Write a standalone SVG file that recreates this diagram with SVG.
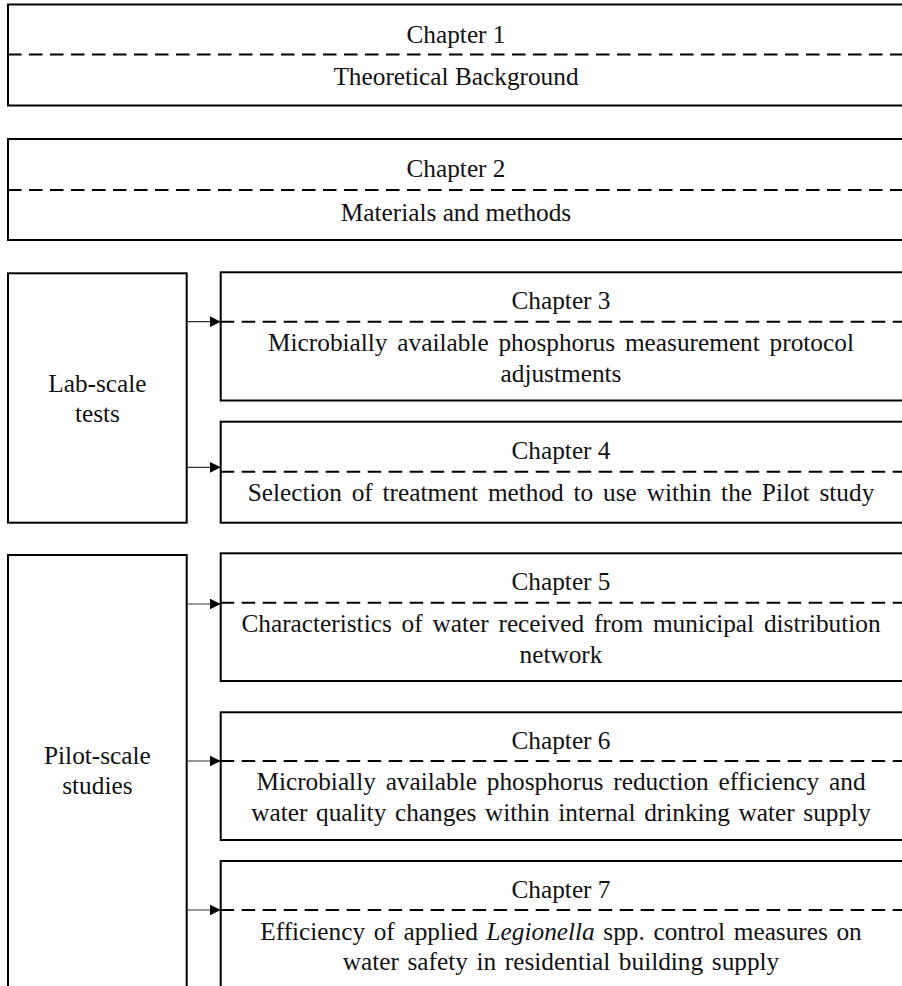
<svg xmlns="http://www.w3.org/2000/svg" width="902" height="986" viewBox="0 0 902 986">
<style>
.box{fill:#fff;stroke:#000;stroke-width:2}
.dash{stroke:#000;stroke-width:2;stroke-dasharray:13.5 7.5;fill:none}
.conn{stroke:#333;stroke-width:1.2;fill:none}
text{font-family:"Liberation Serif","Times New Roman",serif;font-size:25.3px;fill:#111;text-anchor:middle}
.ws{word-spacing:3.5px}
.ws2{word-spacing:2.3px}
</style>
<defs>
<marker id="ah" viewBox="0 0 10 10" refX="10" refY="5" markerWidth="11" markerHeight="11" markerUnits="userSpaceOnUse" orient="auto">
<path d="M0,0 L10,5 L0,10 z" fill="#000"/>
</marker>
</defs>
<rect width="902" height="986" fill="#fff"/>

<g id="ch1">
<rect class="box" x="8" y="4.5" width="896" height="101"/>
<line class="dash" x1="8" y1="54.5" x2="904" y2="54.5"/>
<text x="456" y="42.7">Chapter 1</text>
<text x="456" y="85">Theoretical Background</text>
</g>

<g id="ch2">
<rect class="box" x="8" y="139" width="896" height="101"/>
<line class="dash" x1="8" y1="190" x2="904" y2="190"/>
<text x="456" y="176.7">Chapter 2</text>
<text x="456" y="220.7">Materials and methods</text>
</g>

<g id="lab">
<rect class="box" x="8" y="273.3" width="178.7" height="249.4"/>
<text x="97.4" y="391.7">Lab-scale</text>
<text x="97.4" y="421.7">tests</text>
</g>

<g id="ch3">
<rect class="box" x="220.7" y="272.3" width="683.3" height="128.2"/>
<line class="dash" x1="220.7" y1="321.7" x2="904" y2="321.7"/>
<text x="561" y="309.3">Chapter 3</text>
<text class="ws" x="561" y="350.7">Microbially available phosphorus measurement protocol</text>
<text x="561" y="381.7">adjustments</text>
</g>

<g id="ch4">
<rect class="box" x="220.7" y="421.7" width="683.3" height="101"/>
<line class="dash" x1="220.7" y1="471.7" x2="904" y2="471.7"/>
<text x="561" y="459.3">Chapter 4</text>
<text class="ws" x="561" y="501">Selection of treatment method to use within the Pilot study</text>
</g>

<g id="pilot">
<rect class="box" x="8" y="555" width="178.7" height="450"/>
<text x="97.4" y="764">Pilot-scale</text>
<text x="97.4" y="794">studies</text>
</g>

<g id="ch5">
<rect class="box" x="220.7" y="553.3" width="683.3" height="127.7"/>
<line class="dash" x1="220.7" y1="602.7" x2="904" y2="602.7"/>
<text x="561" y="590.3">Chapter 5</text>
<text class="ws" x="561" y="631.7">Characteristics of water received from municipal distribution</text>
<text x="561" y="662.7">network</text>
</g>

<g id="ch6">
<rect class="box" x="220.7" y="712.3" width="683.3" height="127.7"/>
<line class="dash" x1="220.7" y1="761" x2="904" y2="761"/>
<text x="561" y="748.6">Chapter 6</text>
<text class="ws" x="561" y="790">Microbially available phosphorus reduction efficiency and</text>
<text class="ws2" x="561" y="821">water quality changes within internal drinking water supply</text>
</g>

<g id="ch7">
<rect class="box" x="220.7" y="861" width="683.3" height="150"/>
<line class="dash" x1="220.7" y1="910" x2="904" y2="910"/>
<text x="561" y="897.8">Chapter 7</text>
<text class="ws2" x="561" y="940">Efficiency of applied <tspan font-style="italic">Legionella</tspan> spp. control measures on</text>
<text class="ws2" x="561" y="970">water safety in residential building supply</text>
</g>

<g id="connectors">
<line class="conn" x1="187.7" y1="321.7" x2="220.7" y2="321.7" marker-end="url(#ah)"/>
<line class="conn" x1="187.7" y1="467.3" x2="220.7" y2="467.3" marker-end="url(#ah)"/>
<line class="conn" x1="187.7" y1="604" x2="220.7" y2="604" marker-end="url(#ah)"/>
<line class="conn" x1="187.7" y1="761" x2="220.7" y2="761" marker-end="url(#ah)"/>
<line class="conn" x1="187.7" y1="910" x2="220.7" y2="910" marker-end="url(#ah)"/>
</g>
</svg>
